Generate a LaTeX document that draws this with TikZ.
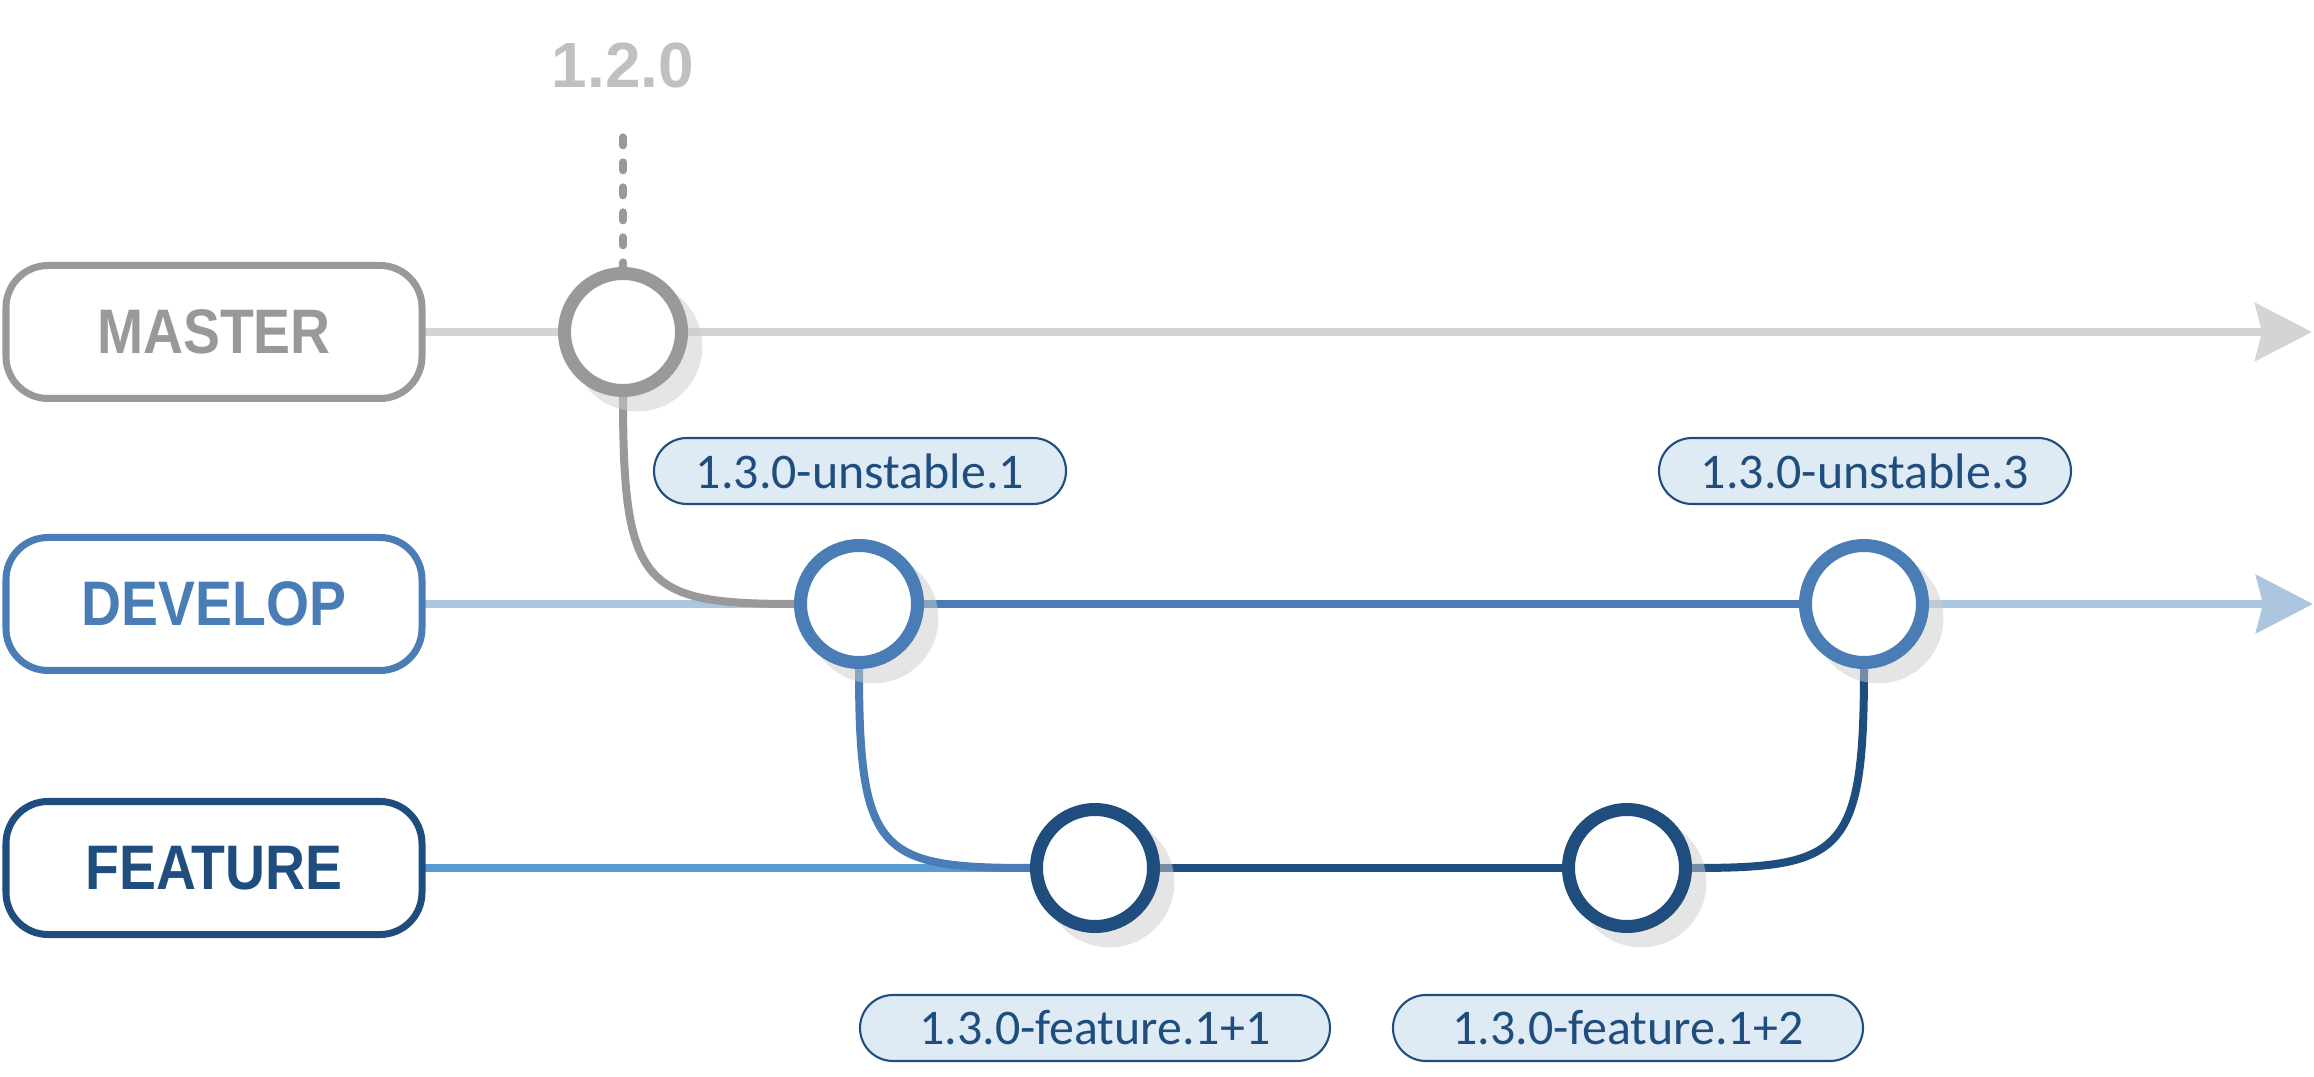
\documentclass[tikz,border=0pt]{standalone}
\usepackage{fontspec}
\setmainfont{Carlito}
\newfontfamily\ramafont{Liberation Sans}[FakeStretch=0.88]
\newfontfamily\versionfont{Liberation Sans}
\usetikzlibrary{arrows.meta,shapes.misc,shadows}

\definecolor{grisoscuro}{HTML}{999999}
\definecolor{grisclaro}{HTML}{D4D4D4}
\definecolor{grisversion}{HTML}{C0C0C0}
\definecolor{azuldev}{HTML}{4A7DB5}
\definecolor{azuldevclaro}{HTML}{ADC6E0}
\definecolor{azulfeat}{HTML}{1F4E7E}
\definecolor{azulfeatclaro}{HTML}{5B9BD5}
\definecolor{fondoetiqueta}{HTML}{DEEAF4}

\pgfdeclarelayer{fondo}
\pgfsetlayers{fondo,main}

\tikzset{
  rama/.style={draw=#1, text=#1, line width=0.07cm, fill=white, rounded corners=0.42cm,
    minimum width=4.16cm, minimum height=1.33cm, font=\ramafont\bfseries\fontsize{17.9}{18}\selectfont},
  commit/.style={circle, draw=#1, line width=0.13cm, fill=white, minimum size=1.17cm, inner sep=0pt,
    drop shadow={shadow xshift=0.13cm, shadow yshift=-0.13cm, shadow scale=1.11, fill=black!20, opacity=0.5}},
  etiqueta/.style={rounded rectangle, draw=azulfeat, fill=fondoetiqueta, text=azulfeat, line width=0.6pt,
    minimum height=0.66cm, minimum width=#1, inner sep=0pt, font=\fontsize{14.2}{15}\selectfont},
  linea/.style={line width=0.08cm, line cap=round},
  flecha/.style={-{Stealth[length=0.57cm,width=0.58cm,inset=0.07cm]}}
}

\begin{document}
\begin{tikzpicture}
\useasboundingbox (0,0) rectangle (23.14,10.76);

%Cajas de las ramas
\node[rama=grisoscuro] (master) at (2.14,7.44) {MASTER};
\node[rama=azuldev] (develop) at (2.14,4.72) {DEVELOP};
\node[rama=azulfeat] (feature) at (2.14,2.08) {FEATURE};

%Commits sobre cada rama
\node[commit=grisoscuro] (m1) at (6.23,7.44) {};
\node[commit=azuldev] (d1) at (8.59,4.72) {};
\node[commit=azuldev] (d2) at (18.64,4.72) {};
\node[commit=azulfeat] (f1) at (10.95,2.08) {};
\node[commit=azulfeat] (f2) at (16.27,2.08) {};

%Version y etiquetas
\node[text=grisversion, font=\versionfont\bfseries\fontsize{18.2}{19}\selectfont, inner sep=0pt] (v120) at (6.23,10.11) {1.2.0};
\node[etiqueta=4.12cm] (u1) at (8.60,6.05) {1.3.0-unstable.1};
\node[etiqueta=4.12cm] (u3) at (18.65,6.05) {1.3.0-unstable.3};
\node[etiqueta=4.70cm] (fe1) at (10.95,0.48) {1.3.0-feature.1+1};
\node[etiqueta=4.70cm] (fe2) at (16.28,0.48) {1.3.0-feature.1+2};

%Fin de las flechas
\coordinate (mfin) at (23.12,7.44);
\coordinate (dfin) at (23.13,4.72);

\begin{pgfonlayer}{fondo}
%Lineas rectas de cada rama
\draw[linea, grisclaro, flecha] (master) -- (mfin);
\draw[linea, azuldevclaro] (develop) -- (d1);
\draw[linea, azuldev] (d1) -- (d2);
\draw[linea, azuldevclaro, flecha] (d2) -- (dfin);
\draw[linea, azulfeatclaro] (feature) -- (f1);
\draw[linea, azulfeat] (f1) -- (f2);

%Curvas entre ramas
\draw[linea, grisoscuro] (m1.south) .. controls +(0,-1.9) and +(-1.5,0) .. (d1.west);
\draw[linea, azuldev] (d1.south) .. controls +(0,-1.85) and +(-1.5,0) .. (f1.west);
\draw[linea, azulfeat] (f2.east) .. controls +(1.5,0) and +(0,-1.85) .. (d2.south);

%Linea punteada hacia la version
\draw[linea, grisoscuro, dash pattern=on 0.08cm off 0.17cm, shorten <=0.49cm] (v120) -- (m1);
\end{pgfonlayer}
\end{tikzpicture}
\end{document}
